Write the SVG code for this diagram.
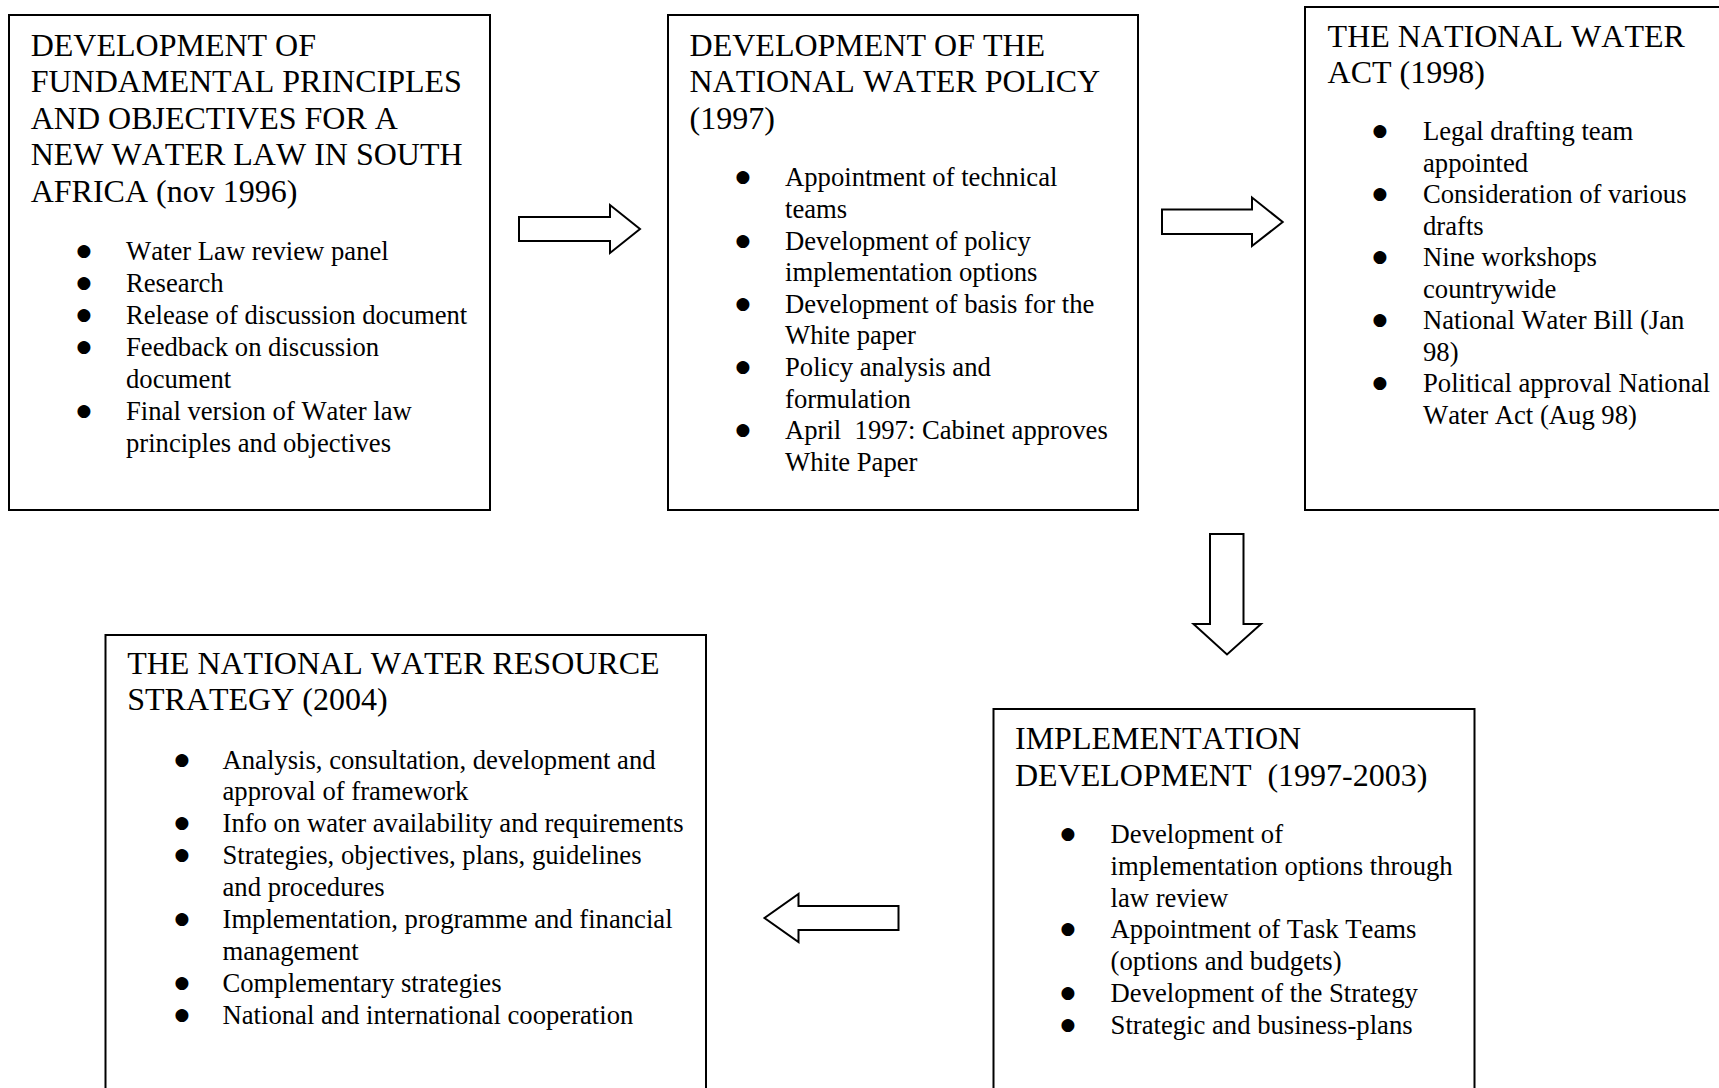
<svg xmlns="http://www.w3.org/2000/svg" width="1719" height="1088" viewBox="0 0 1719 1088">
  <style>
    .box { fill: #fff; stroke: #000; stroke-width: 2; }
    .arrow { fill: #fff; stroke: #000; stroke-width: 2; stroke-linejoin: miter; }
    text { font-family: "Liberation Serif", "Times New Roman", serif; fill: #000; font-kerning: none; }
    .h { font-size: 32px; }
    .b { font-size: 26.67px; }
    .dot { font-family: "DejaVu Sans", sans-serif; font-size: 17px; text-anchor: middle; }
  </style>
  <rect width="1719" height="1088" fill="#fff"/>

  <!-- Stage 1: principles and objectives -->
  <g id="principles">
    <rect class="box" x="9" y="15" width="481" height="495"/>
    <text class="h">
      <tspan x="30.7" y="55.5">DEVELOPMENT OF</tspan>
      <tspan x="30.7" y="92">FUNDAMENTAL PRINCIPLES</tspan>
      <tspan x="30.7" y="128.5">AND OBJECTIVES FOR A</tspan>
      <tspan x="30.7" y="165">NEW WATER LAW IN SOUTH</tspan>
      <tspan x="30.7" y="201.5">AFRICA (nov 1996)</tspan>
    </text>
    <text class="dot" transform="translate(0,-4)"><tspan x="84" y="260">●</tspan><tspan x="84" y="292">●</tspan><tspan x="84" y="324">●</tspan><tspan x="84" y="356">●</tspan><tspan x="84" y="420">●</tspan></text>
    <text class="b">
      <tspan x="126" y="260">Water Law review panel</tspan>
      <tspan x="126" y="292">Research</tspan>
      <tspan x="126" y="324">Release of discussion document</tspan>
      <tspan x="126" y="356">Feedback on discussion</tspan>
      <tspan x="126" y="388">document</tspan>
      <tspan x="126" y="420">Final version of Water law</tspan>
      <tspan x="126" y="452">principles and objectives</tspan>
    </text>
  </g>

  <!-- Stage 2: national water policy -->
  <g id="policy">
    <rect class="box" x="668" y="15" width="470" height="495"/>
    <text class="h">
      <tspan x="689.6" y="55.5">DEVELOPMENT OF THE</tspan>
      <tspan x="689.6" y="92">NATIONAL WATER POLICY</tspan>
      <tspan x="689.6" y="128.5">(1997)</tspan>
    </text>
    <text class="dot" transform="translate(0,-4)"><tspan x="743" y="186.4">●</tspan><tspan x="743" y="249.6">●</tspan><tspan x="743" y="312.8">●</tspan><tspan x="743" y="376">●</tspan><tspan x="743" y="439.2">●</tspan></text>
    <text class="b">
      <tspan x="785" y="186.4">Appointment of technical</tspan>
      <tspan x="785" y="218">teams</tspan>
      <tspan x="785" y="249.6">Development of policy</tspan>
      <tspan x="785" y="281.2">implementation options</tspan>
      <tspan x="785" y="312.8">Development of basis for the</tspan>
      <tspan x="785" y="344.4">White paper</tspan>
      <tspan x="785" y="376">Policy analysis and</tspan>
      <tspan x="785" y="407.6">formulation</tspan>
      <tspan x="785" y="439.2">April&#160; 1997: Cabinet approves</tspan>
      <tspan x="785" y="470.8">White Paper</tspan>
    </text>
  </g>

  <!-- Stage 3: national water act -->
  <g id="act">
    <rect class="box" x="1305" y="7" width="430" height="503"/>
    <text class="h">
      <tspan x="1327.6" y="46.6">THE NATIONAL WATER</tspan>
      <tspan x="1327.6" y="83">ACT (1998)</tspan>
    </text>
    <text class="dot" transform="translate(0,-4)"><tspan x="1380" y="140.3">●</tspan><tspan x="1380" y="203.3">●</tspan><tspan x="1380" y="266.3">●</tspan><tspan x="1380" y="329.3">●</tspan><tspan x="1380" y="392.3">●</tspan></text>
    <text class="b">
      <tspan x="1423" y="140.3">Legal drafting team</tspan>
      <tspan x="1423" y="171.8">appointed</tspan>
      <tspan x="1423" y="203.3">Consideration of various</tspan>
      <tspan x="1423" y="234.8">drafts</tspan>
      <tspan x="1423" y="266.3">Nine workshops</tspan>
      <tspan x="1423" y="297.8">countrywide</tspan>
      <tspan x="1423" y="329.3">National Water Bill (Jan</tspan>
      <tspan x="1423" y="360.8">98)</tspan>
      <tspan x="1423" y="392.3">Political approval National</tspan>
      <tspan x="1423" y="423.8">Water Act (Aug 98)</tspan>
    </text>
  </g>

  <!-- Stage 4: implementation development -->
  <g id="implementation">
    <rect class="box" x="993.5" y="709" width="481" height="400"/>
    <text class="h">
      <tspan x="1015" y="749.3">IMPLEMENTATION</tspan>
      <tspan x="1015" y="785.5">DEVELOPMENT&#160; (1997-2003)</tspan>
    </text>
    <text class="dot" transform="translate(0,-4)"><tspan x="1068" y="843">●</tspan><tspan x="1068" y="938.4">●</tspan><tspan x="1068" y="1002">●</tspan><tspan x="1068" y="1033.8">●</tspan></text>
    <text class="b">
      <tspan x="1110.6" y="843">Development of</tspan>
      <tspan x="1110.6" y="874.8">implementation options through</tspan>
      <tspan x="1110.6" y="906.6">law review</tspan>
      <tspan x="1110.6" y="938.4">Appointment of Task Teams</tspan>
      <tspan x="1110.6" y="970.2">(options and budgets)</tspan>
      <tspan x="1110.6" y="1002">Development of the Strategy</tspan>
      <tspan x="1110.6" y="1033.8">Strategic and business-plans</tspan>
    </text>
  </g>

  <!-- Stage 5: national water resource strategy -->
  <g id="strategy">
    <rect class="box" x="105.5" y="635" width="600.5" height="480"/>
    <text class="h">
      <tspan x="127.2" y="673.7">THE NATIONAL WATER RESOURCE</tspan>
      <tspan x="127.2" y="710">STRATEGY (2004)</tspan>
    </text>
    <text class="dot" transform="translate(0,-4)"><tspan x="182" y="768.5">●</tspan><tspan x="182" y="832.3">●</tspan><tspan x="182" y="864.2">●</tspan><tspan x="182" y="928">●</tspan><tspan x="182" y="991.8">●</tspan><tspan x="182" y="1023.7">●</tspan></text>
    <text class="b">
      <tspan x="222.5" y="768.5">Analysis, consultation, development and</tspan>
      <tspan x="222.5" y="800.4">approval of framework</tspan>
      <tspan x="222.5" y="832.3">Info on water availability and requirements</tspan>
      <tspan x="222.5" y="864.2">Strategies, objectives, plans, guidelines</tspan>
      <tspan x="222.5" y="896.1">and procedures</tspan>
      <tspan x="222.5" y="928">Implementation, programme and financial</tspan>
      <tspan x="222.5" y="959.9">management</tspan>
      <tspan x="222.5" y="991.8">Complementary strategies</tspan>
      <tspan x="222.5" y="1023.7">National and international cooperation</tspan>
    </text>
  </g>

  <!-- Block arrows between stages -->
  <g id="connectors">
    <path class="arrow" d="M519,217 H610 V205 L640,229 L610,253 V241 H519 Z"/>
    <path class="arrow" d="M1162,209.5 H1252 V197.5 L1282.7,222 L1252,246 V234 H1162 Z"/>
    <path class="arrow" d="M1210,534 H1243.5 V624 H1261 L1227,654.5 L1193.5,624 H1210 Z"/>
    <path class="arrow" d="M898.5,906 H798.5 V894 L764.5,918 L798.5,942 V930 H898.5 Z"/>
  </g>
</svg>
